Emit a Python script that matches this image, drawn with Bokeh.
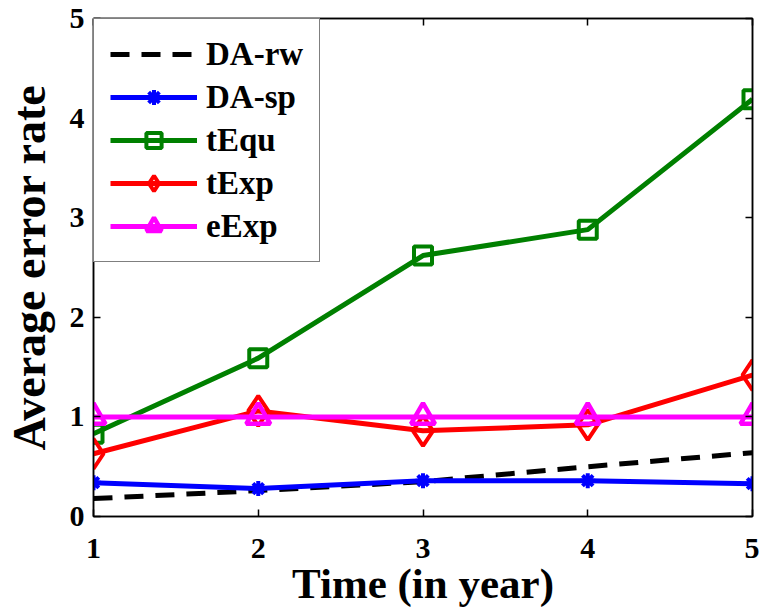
from bokeh.plotting import figure
from bokeh.models import Range1d, LinearAxis, FixedTicker, Legend, CustomJSTickFormatter
from bokeh.embed import file_html
from bokeh.resources import INLINE

years = [1, 2, 3, 4, 5]
da_rw = [0.18, 0.26, 0.35, 0.50, 0.64]
da_sp = [0.34, 0.28, 0.36, 0.36, 0.33]
t_equ = [0.83, 1.59, 2.62, 2.88, 4.19]
t_exp = [0.63, 1.06, 0.86, 0.92, 1.42]
e_exp = [1.0, 1.0, 1.0, 1.0, 1.0]
x_ticks = [1, 2, 3, 4, 5]
y_ticks = [0, 1, 2, 3, 4, 5]

FONT = "Liberation Serif"

p = figure(width=759, height=613, output_backend="svg", toolbar_location=None,
           x_range=Range1d(1, 5), y_range=Range1d(0, 5),
           min_border_left=92, min_border_right=7, min_border_top=18, min_border_bottom=97)
p.grid.visible = False
p.outline_line_color = "black"
p.outline_line_width = 1.5
p.background_fill_color = "white"

LW = 5
r1 = p.line(years, da_rw, line_color="black", line_width=LW, line_dash="19 12")
r2a = p.line(years, da_sp, line_color="blue", line_width=LW)
r2b = p.scatter(years, da_sp, marker="asterisk", size=15, line_color="blue", line_width=4)
r3a = p.line(years, t_equ, line_color="green", line_width=LW)
r3b = p.scatter(years, t_equ, marker="square", size=18, line_color="green", line_width=4, fill_alpha=0)
r4a = p.line(years, t_exp, line_color="red", line_width=LW)
r4b = p.scatter(years, t_exp, marker="diamond", size=30, line_color="red", line_width=4, fill_alpha=0)
r5a = p.line(years, e_exp, line_color="magenta", line_width=LW)
r5b = p.scatter(years, e_exp, marker="triangle", size=24, line_color="magenta", line_width=4.5, fill_alpha=0)

for ax in [p.xaxis[0], p.yaxis[0]]:
    ax.major_label_text_font = FONT
    ax.major_label_text_font_style = "bold"
    ax.major_label_text_font_size = "30px"
    ax.major_label_text_color = "black"
    ax.axis_label_text_font = FONT
    ax.axis_label_text_font_style = "bold"
    ax.axis_label_text_color = "black"
    ax.major_tick_in = 7
    ax.major_tick_out = 0
    ax.minor_tick_line_color = None
    ax.axis_line_color = "black"
    ax.axis_line_width = 1.5
    ax.major_tick_line_width = 1.5

p.xaxis[0].ticker = FixedTicker(ticks=x_ticks)
p.yaxis[0].ticker = FixedTicker(ticks=y_ticks)
p.xaxis[0].axis_label = "Time (in year)"
p.yaxis[0].axis_label = "Average error rate"
p.xaxis[0].axis_label_text_font_size = "43px"
p.yaxis[0].axis_label_text_font_size = "46px"
p.xaxis[0].major_label_standoff = 22
p.xaxis[0].axis_label_standoff = -1
p.yaxis[0].major_label_standoff = 9
p.yaxis[0].axis_label_standoff = 12

for loc, ticks in [("above", x_ticks), ("right", y_ticks)]:
    ax = LinearAxis(ticker=FixedTicker(ticks=ticks),
                    formatter=CustomJSTickFormatter(code="return ''"))
    ax.major_label_standoff = 0
    ax.major_tick_in = 7
    ax.major_tick_out = 0
    ax.minor_tick_line_color = None
    ax.axis_line_width = 1.5
    ax.major_tick_line_width = 1.5
    p.add_layout(ax, loc)

legend = Legend(items=[("DA-rw", [r1]), ("DA-sp", [r2a, r2b]), ("tEqu", [r3a, r3b]),
                       ("tExp", [r4a, r4b]), ("eExp", [r5a, r5b])],
                location="top_left")
legend.margin = 0
legend.padding = 16
legend.spacing = 5
legend.glyph_width = 87
legend.glyph_height = 38
legend.label_standoff = 9
legend.label_text_font = FONT
legend.label_text_font_style = "bold"
legend.label_text_font_size = "33px"
legend.label_text_color = "black"
legend.border_line_color = "black"
legend.border_line_width = 1.5
legend.background_fill_color = "white"
legend.background_fill_alpha = 1
p.add_layout(legend, "center")

open("out.html", "w").write(file_html(p, INLINE))
